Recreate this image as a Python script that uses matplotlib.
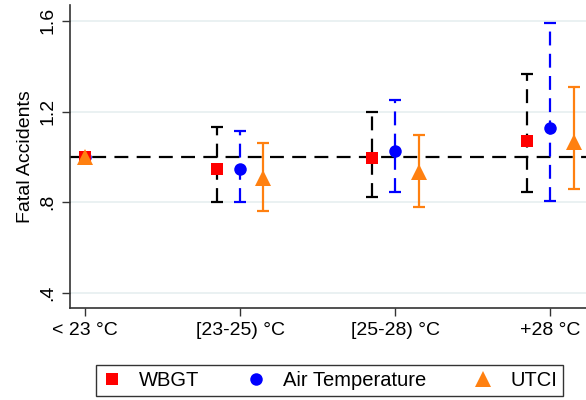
import matplotlib
matplotlib.use('Agg')
import matplotlib.pyplot as plt
from matplotlib.lines import Line2D
import numpy as np

plt.rcParams['font.family'] = ['Liberation Sans', 'DejaVu Sans']
plt.rcParams['lines.scale_dashes'] = False

categories = ['< 23 °C', '[23-25) °C', '[25-28) °C', '+28 °C']

# point estimates and 95% CIs
wbgt = [1.00, 0.949, 0.997, 1.070]
wbgt_lo = [np.nan, 0.800, 0.825, 0.845]
wbgt_hi = [np.nan, 1.132, 1.198, 1.366]

air = [1.00, 0.945, 1.028, 1.128]
air_lo = [np.nan, 0.800, 0.846, 0.806]
air_hi = [np.nan, 1.113, 1.250, 1.590]

utci = [1.00, 0.905, 0.934, 1.066]
utci_lo = [np.nan, 0.760, 0.780, 0.860]
utci_hi = [np.nan, 1.060, 1.096, 1.310]

yticks = [0.4, 0.8, 1.2, 1.6]
yticklabels = ['.4', '.8', '1.2', '1.6']

red = '#ff0000'
blue = '#0000ff'
orange = '#ff8010'

fig = plt.figure(figsize=(5.86, 4.0), dpi=100)
ax = fig.add_axes([0.1195, 0.23, 0.8805, 0.7575])

x = np.arange(len(categories))
off = 0.15
dash = (0, (10, 6))

for y in yticks:
    ax.axhline(y, color='#e6eff0', lw=1.2, zorder=0)
ax.axhline(1.0, color='k', lw=1.6, linestyle=dash, zorder=1)

# (x, est, lo, hi, colour, marker, ci colour, ci style, size, label, z)
series = [
    (x - off, wbgt, wbgt_lo, wbgt_hi, red, 's', 'k', dash, 8.4, 'WBGT', 4),
    (x, air, air_lo, air_hi, blue, 'o', blue, dash, 9.0, 'Air Temperature', 3),
    (x + off, utci, utci_lo, utci_hi, orange, '^', orange, '-', 11.0, 'UTCI', 5),
]

handles = []
for xs, est, lo, hi, col, mk, ecol, els, ms, lab, z in series:
    xs = np.array(xs, dtype=float)
    xs[0] = 0.0  # reference category sits on the tick
    lo = np.array(lo)
    hi = np.array(hi)
    ok = ~np.isnan(lo)
    ax.vlines(xs[ok], lo[ok], hi[ok], colors=ecol, lw=1.6, linestyles=[els], zorder=2)
    ax.plot(xs[ok], lo[ok], marker='_', ms=8, mew=1.6, color=ecol, ls='none', zorder=2)
    ax.plot(xs[ok], hi[ok], marker='_', ms=8, mew=1.6, color=ecol, ls='none', zorder=2)
    ax.plot(xs, est, marker=mk, ms=ms, color=col, mec=col, mew=0, ls='none', zorder=z)
    handles.append(Line2D([], [], marker=mk, ms=ms, color=col, mew=0, ls='none', label=lab))

ax.set_xlim(-0.097, 3.23)
ax.set_ylim(0.334, 1.67)
ax.set_xticks(x)
ax.set_xticklabels(categories, fontsize=14)
ax.set_yticks(yticks)
ax.set_yticklabels(yticklabels, fontsize=14, rotation=90, va='center')
ax.set_ylabel('Fatal Accidents', fontsize=14, labelpad=4)
ax.tick_params(axis='both', direction='out', length=6, width=1.0, color='#333333', pad=4)

for s in ['top', 'right']:
    ax.spines[s].set_visible(False)
for s in ['left', 'bottom']:
    ax.spines[s].set_color('#333333')
    ax.spines[s].set_linewidth(1.2)

leg = fig.legend(handles=handles, ncol=3, loc='center', bbox_to_anchor=(0.5623, 0.048),
                 fontsize=14.5, frameon=True, fancybox=False, edgecolor='k',
                 handletextpad=0.85, columnspacing=2.3, borderpad=0.3, handlelength=1.0)
leg.get_frame().set_linewidth(1.0)

fig.savefig('out.png', dpi=100)
